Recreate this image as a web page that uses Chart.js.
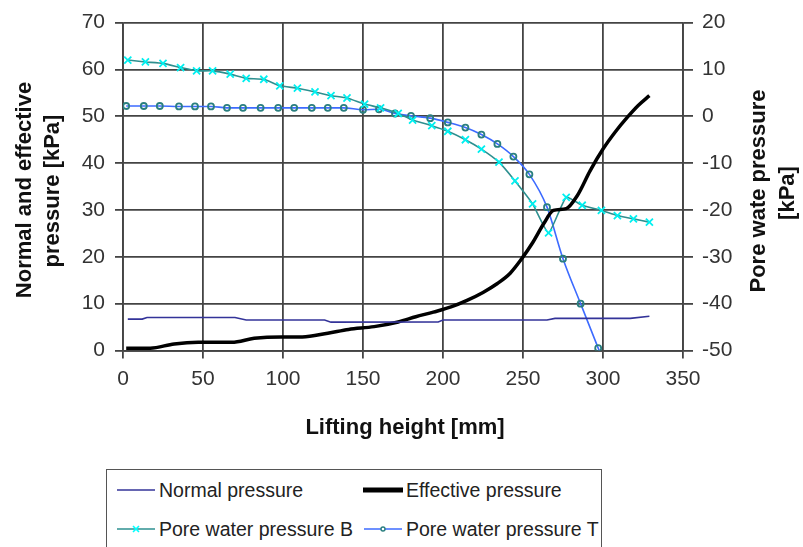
<!DOCTYPE html>
<html>
<head>
<meta charset="utf-8">
<script src="https://cdn.jsdelivr.net/npm/chart.js@4.4.0/dist/chart.umd.min.js"></script>
<style>
  html, body { margin: 0; padding: 0; background: #fff; overflow: hidden; }
  #wrap { position: relative; width: 803px; height: 547px; }
  #legend { position: absolute; left: 106px; top: 469px; width: 496px; height: 100px;
            border: 1.5px solid #555; box-sizing: border-box; background: #fff;
            font-family: "Liberation Sans", Arial, sans-serif; font-size: 19.5px; color: #222; }
  .item { position: absolute; white-space: nowrap; line-height: 22px; }
  .item svg { position: absolute; }
</style>
</head>
<body>
<div id="wrap">
  <canvas id="c" width="803" height="547"></canvas>
  <div id="legend">
    <div class="item" style="left:10px; top:9px;"><svg width="38" height="22" style="left:0;top:0"><line x1="0" y1="11" x2="38" y2="11" stroke="#333399" stroke-width="1.6"/></svg><span style="position:absolute;left:42px;top:0">Normal pressure</span></div>
    <div class="item" style="left:256px; top:9px;"><svg width="40" height="22" style="left:0;top:0"><line x1="0" y1="11" x2="40" y2="11" stroke="#000" stroke-width="5"/></svg><span style="position:absolute;left:43px;top:0">Effective pressure</span></div>
    <div class="item" style="left:10px; top:48px;"><svg width="38" height="22" style="left:0;top:0"><line x1="0" y1="11" x2="38" y2="11" stroke="#2e9090" stroke-width="1.6"/><line x1="16" y1="8" x2="22" y2="14" stroke="#00ffff" stroke-width="1.6"/><line x1="22" y1="8" x2="16" y2="14" stroke="#00ffff" stroke-width="1.6"/></svg><span style="position:absolute;left:42px;top:0">Pore water pressure B</span></div>
    <div class="item" style="left:257px; top:48px;"><svg width="38" height="22" style="left:0;top:0"><line x1="0" y1="11" x2="38" y2="11" stroke="#3d6bff" stroke-width="1.6"/><circle cx="19" cy="11" r="2" fill="#fff" stroke="#2a7f7f" stroke-width="1.4"/></svg><span style="position:absolute;left:42px;top:0">Pore water pressure T</span></div>
  </div>
</div>
<script>
// ---- data ----
const xTicks = [0, 50, 100, 150, 200, 250, 300, 350];
const leftTicks = [0, 10, 20, 30, 40, 50, 60, 70];
const rightTicks = [-50, -40, -30, -20, -10, 0, 10, 20];

const normalX = [3, 12, 15, 70, 77, 126, 130, 197, 200, 265, 270, 317, 329];
const normalY = [6.7, 6.7, 7.05, 7.05, 6.5, 6.5, 6.05, 6.1, 6.5, 6.5, 6.85, 6.85, 7.3];

const effX = [2, 17, 32, 47, 68, 82, 99, 112, 128, 141, 157, 172, 183, 194, 205, 215, 225, 234, 242, 249, 256, 263, 269, 277, 284, 292, 300, 308, 315, 322, 329];
const effY = [0.5, 0.5, 1.4, 1.75, 1.75, 2.6, 2.9, 2.9, 3.7, 4.5, 5.1, 6.1, 7.2, 8.2, 9.3, 10.7, 12.4, 14.3, 16.5, 19.5, 23.0, 27.1, 29.9, 30.3, 33.1, 38.4, 43.0, 46.8, 49.7, 52.3, 54.4];

const poreBX = [3, 14, 25, 36, 46, 56, 67, 77, 88, 98, 109, 120, 130, 140, 151, 161, 172, 181, 193, 203, 214, 224, 235, 245, 256, 266, 277, 287, 299, 309, 319, 329];
const poreBY = [12.0, 11.6, 11.3, 10.4, 9.7, 9.7, 9.0, 8.1, 7.9, 6.5, 6.0, 5.2, 4.4, 3.9, 2.6, 1.8, 0.6, -0.8, -2.0, -3.2, -5.0, -7.0, -9.8, -13.8, -18.7, -24.9, -17.3, -19.0, -20.1, -21.2, -21.9, -22.6];

const poreTX = [2, 13, 23, 35, 45, 55, 65, 75, 86, 97, 107, 118, 128, 138, 150, 160, 170, 180, 192, 203, 214, 224, 234, 244, 254, 265, 275, 286, 297, 307];
const poreTY = [2.2, 2.2, 2.2, 2.1, 2.1, 2.1, 1.8, 1.8, 1.8, 1.8, 1.8, 1.8, 1.8, 1.8, 1.4, 1.5, 0.6, 0.1, -0.4, -1.3, -2.4, -3.9, -5.9, -8.6, -12.4, -19.4, -30.4, -40.0, -49.5, -58.0];

const pts = (xs, ys) => xs.map((x, i) => ({ x: x, y: ys[i] }));

const FONT = '"Liberation Sans", Arial, sans-serif';
const GRID = '#444';

const titlesPlugin = {
  id: 'titles',
  afterDraw(chart) {
    const ctx = chart.ctx;
    ctx.save();
    ctx.fillStyle = '#111';
    ctx.font = 'bold 22px ' + FONT;
    ctx.textAlign = 'center';
    ctx.textBaseline = 'middle';
    // left title
    ctx.save();
    ctx.translate(25, 190);
    ctx.rotate(-Math.PI / 2);
    ctx.fillText('Normal and effective', 0, 0);
    ctx.restore();
    ctx.save();
    ctx.translate(53, 191);
    ctx.rotate(-Math.PI / 2);
    ctx.fillText('pressure [kPa]', 0, 0);
    ctx.restore();
    // right title
    ctx.save();
    ctx.translate(759, 191);
    ctx.rotate(-Math.PI / 2);
    ctx.fillText('Pore wate pressure', 0, 0);
    ctx.restore();
    ctx.save();
    ctx.translate(788, 193);
    ctx.rotate(-Math.PI / 2);
    ctx.fillText('[kPa]', 0, 0);
    ctx.restore();
    // x title
    ctx.fillText('Lifting height [mm]', 405, 428);
    ctx.restore();
  }
};

new Chart(document.getElementById('c'), {
  type: 'line',
  data: {
    datasets: [
      { label: 'Normal pressure', data: pts(normalX, normalY), yAxisID: 'y',
        borderColor: '#333399', borderWidth: 1.6, pointRadius: 0, tension: 0 },
      { label: 'Effective pressure', data: pts(effX, effY), yAxisID: 'y',
        borderColor: '#000', borderWidth: 3.5, pointRadius: 0, cubicInterpolationMode: 'monotone' },
      { label: 'Pore water pressure B', data: pts(poreBX, poreBY), yAxisID: 'y2',
        borderColor: '#2e9090', borderWidth: 1.6, tension: 0.15,
        pointStyle: 'cross', rotation: 45, pointRadius: 5, pointBorderWidth: 1.8,
        pointBorderColor: '#00f0f0', pointBackgroundColor: '#00f0f0' },
      { label: 'Pore water pressure T', data: pts(poreTX, poreTY), yAxisID: 'y2',
        borderColor: '#3d6bff', borderWidth: 1.6, cubicInterpolationMode: 'monotone',
        pointStyle: 'circle', pointRadius: 3, pointBorderWidth: 1.8,
        pointBorderColor: '#2a7f7f', pointBackgroundColor: 'rgba(255,255,255,0)' }
    ]
  },
  options: {
    responsive: false,
    animation: false,
    events: [],
    layout: { padding: { top: 21.5, left: 0, right: 0, bottom: 0 } },
    plugins: { legend: { display: false }, tooltip: { enabled: false } },
    scales: {
      x: {
        type: 'linear', min: 0, max: 350,
        afterFit: s => { s.height = 196.5; },
        afterBuildTicks: s => { s.ticks = xTicks.map(v => ({ value: v })); },
        grid: { color: GRID, lineWidth: 1.8, tickLength: 8, tickColor: GRID },
        border: { color: GRID, width: 1.8 },
        ticks: { color: '#333', padding: 8, maxRotation: 0, font: { family: FONT, size: 21 } }
      },
      y: {
        position: 'left', min: 0, max: 70,
        afterFit: s => { s.width = 123; },
        afterBuildTicks: s => { s.ticks = leftTicks.map(v => ({ value: v })); },
        grid: { color: GRID, lineWidth: 1.8, tickLength: 8, tickColor: GRID },
        border: { color: GRID, width: 1.8 },
        ticks: { color: '#333', padding: 10, font: { family: FONT, size: 21 } }
      },
      y2: {
        position: 'right', min: -50, max: 20,
        afterFit: s => { s.width = 120; },
        afterBuildTicks: s => { s.ticks = rightTicks.map(v => ({ value: v })); },
        grid: { drawOnChartArea: false, color: GRID, lineWidth: 1.8, tickLength: 10, tickColor: GRID },
        border: { color: GRID, width: 1.8 },
        ticks: { color: '#333', padding: 9, font: { family: FONT, size: 21 } }
      }
    }
  },
  plugins: [titlesPlugin]
});
</script>
</body>
</html>
